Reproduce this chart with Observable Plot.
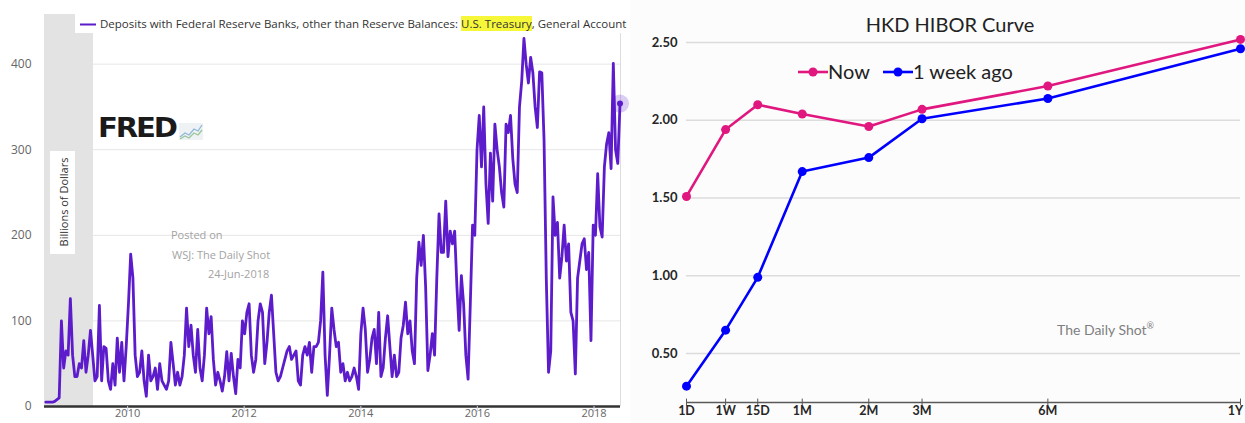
<!DOCTYPE html>
<html>
<head>
<meta charset="utf-8">
<script src="https://cdn.jsdelivr.net/npm/d3@7"></script>
<script src="https://cdn.jsdelivr.net/npm/@observablehq/plot@0.6"></script>
<style>
  body { margin: 0; background: #fff; }
  #wrap { position: relative; width: 1245px; height: 423px; overflow: hidden; }
  #left { position: absolute; left: 0; top: 0; width: 630px; height: 423px; overflow: hidden; font-family: "Open Sans", sans-serif; }
  #right { position: absolute; left: 630px; top: 0; width: 615px; height: 423px; overflow: hidden; font-family: Lato, "Open Sans", sans-serif; background: #fcfcfc; }
  .abs { position: absolute; white-space: nowrap; }
  #left svg, #right svg { position: absolute; left: 0; top: 0; }
</style>
</head>
<body>
<div id="wrap">
  <div id="left"></div>
  <div id="right"></div>
</div>
<script>
// ---------- FRED: Treasury General Account (billions of dollars), biweekly ----------
const tgaStart = "2008-08-06";
const tgaStepDays = 14;
const tgaValues = [
  5, 5, 5, 5, 6, 8, 10, 100, 45, 65,
  60, 126, 60, 35, 35, 50, 45, 77, 40, 60,
  89, 60, 30, 35, 118, 30, 70, 68, 30, 20,
  50, 25, 80, 40, 75, 30, 70, 120, 178, 150,
  60, 35, 40, 65, 30, 12, 60, 30, 35, 45,
  20, 50, 30, 25, 20, 30, 75, 50, 25, 40,
  25, 35, 60, 115, 70, 95, 60, 40, 90, 45,
  30, 60, 115, 85, 105, 55, 25, 40, 30, 18,
  35, 64, 30, 62, 35, 15, 55, 45, 100, 85,
  110, 120, 60, 40, 55, 100, 120, 110, 50, 75,
  110, 130, 85, 40, 30, 35, 45, 55, 65, 70,
  55, 60, 65, 30, 25, 60, 70, 60, 75, 40,
  70, 70, 75, 100, 157, 60, 13, 60, 115, 90,
  70, 75, 40, 50, 30, 40, 30, 35, 45, 35,
  20, 85, 115, 90, 40, 55, 80, 90, 50, 110,
  35, 45, 80, 106, 70, 35, 60, 35, 40, 80,
  95, 122, 85, 100, 65, 50, 150, 192, 165, 200,
  140, 42, 60, 85, 60, 150, 225, 180, 180, 240,
  175, 205, 190, 205, 140, 89, 153, 120, 60, 32,
  120, 212, 200, 300, 340, 280, 350, 260, 214, 296,
  240, 330, 300, 280, 250, 233, 330, 320, 340, 290,
  260, 250, 350, 380, 430, 400, 378, 408, 390, 350,
  326, 391, 390, 311, 150, 40, 65, 245, 200, 215,
  150, 175, 212, 170, 190, 110, 100, 38, 150, 170,
  190, 196, 160, 180, 77, 212, 200, 272, 210, 198,
  280, 307, 320, 278, 401, 300, 284, 354
];
const tgaDomain = ["2008-07-29", "2018-06-16"];
const recession = ["2008-07-29", "2009-06-01"];
const tgaYTicks = [0, 100, 200, 300, 400];
const tgaYearTicks = ["2010", "2012", "2014", "2016", "2018"];
const tgaSeriesName = "Deposits with Federal Reserve Banks, other than Reserve Balances: ";
const tgaSeriesHighlight = "U.S. Treasury";
const tgaSeriesRest = ", General Account";

// ---------- HKD HIBOR curve ----------
const tenors = ["1D", "1W", "15D", "1M", "2M", "3M", "6M", "1Y"];
const tenorDays = [1, 7, 15, 30, 60, 90, 180, 365];
const hiborNow = [1.51, 1.94, 2.10, 2.04, 1.96, 2.07, 2.22, 2.52];
const hiborWeekAgo = [0.29, 0.65, 0.99, 1.67, 1.76, 2.01, 2.14, 2.46];
const rateTicks = [0.5, 1.0, 1.5, 2.0, 2.5];
const rateMin = 0.185;

const purple = "#5c1ccb";
const pink = "#e0177f";
const blue = "#0000ff";

// ----- left panel -----
const tgaData = tgaValues.map((v, i) => ({
  date: d3.utcDay.offset(new Date(tgaStart), i * tgaStepDays),
  value: v
}));
const last = tgaData[tgaData.length - 1];
const yearDates = tgaYearTicks.map(y => new Date(y + "-01-01"));

const leftPlot = Plot.plot({
  width: 630, height: 423,
  marginLeft: 44, marginRight: 10, marginTop: 14, marginBottom: 17,
  x: { type: "utc", domain: tgaDomain.map(d => new Date(d)), axis: null },
  y: { domain: [0, 458], axis: null },
  style: { background: "transparent", overflow: "visible", fontFamily: "Open Sans, sans-serif" },
  marks: [
    Plot.ruleY(tgaYTicks.slice(1), { stroke: "#e6e6e6", strokeWidth: 1 }),
    Plot.rect([recession], { x1: d => new Date(d[0]), x2: d => new Date(d[1]), fill: "#e3e3e3" }),
    Plot.ruleX([new Date(tgaDomain[1])], { stroke: "#dedede", strokeWidth: 1 }),
    Plot.line(tgaData, { x: "date", y: "value", stroke: purple, strokeWidth: 2.8, strokeLinejoin: "round", curve: "linear" }),
    Plot.ruleY([0], { stroke: "#333", strokeWidth: 2.5 }),
    Plot.ruleX(yearDates, { y1: 0, y2: -7, stroke: "#ccd6eb" }),
    Plot.dot([last], { x: "date", y: "value", r: 9, fill: purple, fillOpacity: 0.22 }),
    Plot.dot([last], { x: "date", y: "value", r: 3, fill: purple }),
    Plot.text(tgaYTicks, { y: d => d, frameAnchor: "left", dx: -13, textAnchor: "end", text: d => String(d), fontSize: 12, fill: "#666" }),
    Plot.text(yearDates, { x: d => d, frameAnchor: "bottom", dy: 10, text: (d, i) => tgaYearTicks[i], fontSize: 11, fill: "#666" })
  ]
});
const left = document.getElementById("left");
left.appendChild(leftPlot);

left.insertAdjacentHTML("beforeend", `
  <div class="abs" style="left:75px;top:14px;width:560px;height:19px;background:#fff;">
    <svg class="abs" style="left:5px;top:9px" width="16" height="3"><line x1="0" x2="16" y1="1.5" y2="1.5" stroke="${purple}" stroke-width="2"/></svg>
    <div class="abs" style="left:25px;top:0;line-height:19px;font-size:11.5px;color:#333;">${tgaSeriesName}<span style="background:#f7f73a">${tgaSeriesHighlight}</span>${tgaSeriesRest}</div>
  </div>
  <div class="abs" style="left:50px;top:151px;width:25px;height:103px;background:#fff;"></div>
  <div class="abs" style="left:63px;top:202px;font-size:11px;color:#333;transform:translate(-50%,-50%) rotate(-90deg);">Billions of Dollars</div>
  <div class="abs" style="left:97px;top:115px;width:107px;height:28px;background:#fff;">
    <div class="abs" style="left:1px;top:-3px;font-family:'DejaVu Sans',sans-serif;font-weight:bold;font-size:27px;letter-spacing:-2px;color:#1a1a1a;transform:scaleX(1.08);transform-origin:left;">FRED</div>
    <svg class="abs" style="left:82px;top:8px" width="24" height="17">
      <rect x="0" y="0" width="24" height="17" fill="#eef2f4"/>
      <polyline points="1,14 6,10 10,12 15,6 19,8 23,2" fill="none" stroke="#8fb8d8" stroke-width="1.3"/>
      <polyline points="1,16 6,13 10,15 15,10 19,12 23,7" fill="none" stroke="#9cc59a" stroke-width="1.3"/>
    </svg>
  </div>
  <div class="abs" style="left:171px;top:227px;font-size:11px;color:#a3a3a3;">Posted on</div>
  <div class="abs" style="left:172px;top:247px;font-size:11px;color:#a3a3a3;">WSJ: The Daily Shot</div>
  <div class="abs" style="left:208px;top:266px;font-size:11px;color:#a3a3a3;">24-Jun-2018</div>
`);

// ----- right panel -----
const nowData = tenorDays.map((d, i) => ({ days: d, rate: hiborNow[i] }));
const agoData = tenorDays.map((d, i) => ({ days: d, rate: hiborWeekAgo[i] }));
const tenorLabelStyle = { frameAnchor: "bottom", dy: 12, fontSize: 12.5, fontWeight: "bold", fill: "#262626" };
const lastTenor = tenorDays.length - 1;

const rightPlot = Plot.plot({
  width: 615, height: 423,
  marginLeft: 56, marginRight: 5, marginTop: 42, marginBottom: 21,
  x: { type: "pow", exponent: 0.58, domain: [1, 365], axis: null },
  y: { domain: [rateMin, 2.5], axis: null },
  style: { background: "transparent", overflow: "visible", fontFamily: "Lato, sans-serif" },
  marks: [
    Plot.ruleY(rateTicks, { stroke: "#dcdcdc", strokeWidth: 1.5 }),
    Plot.ruleY([rateMin], { stroke: "#595959", strokeWidth: 1.5 }),
    Plot.ruleX(tenorDays, { y1: rateMin - 0.022, y2: rateMin + 0.022, stroke: "#595959", strokeWidth: 1 }),
    Plot.line(agoData, { x: "days", y: "rate", stroke: blue, strokeWidth: 2.6 }),
    Plot.dot(agoData, { x: "days", y: "rate", r: 4.5, fill: blue }),
    Plot.line(nowData, { x: "days", y: "rate", stroke: pink, strokeWidth: 2.6 }),
    Plot.dot(nowData, { x: "days", y: "rate", r: 4.5, fill: pink }),
    Plot.text(rateTicks, { y: d => d, frameAnchor: "left", dx: -9, textAnchor: "end", text: d => d.toFixed(2), fontSize: 13, fontWeight: "bold", fill: "#262626" }),
    // tenor labels; the last one is nudged inward so it stays inside the panel
    Plot.text(tenorDays.slice(0, lastTenor), { x: d => d, text: (d, i) => tenors[i], ...tenorLabelStyle }),
    Plot.text([tenorDays[lastTenor]], { x: d => d, text: () => tenors[lastTenor], ...tenorLabelStyle, dx: -5 })
  ]
});
const right = document.getElementById("right");
right.appendChild(rightPlot);

right.insertAdjacentHTML("beforeend", `
  <div class="abs" style="left:320px;top:12px;transform:translateX(-50%);font-size:20px;color:#222;">HKD HIBOR Curve</div>
  <svg class="abs" style="left:167px;top:66px" width="32" height="12"><line x1="1" x2="31" y1="6" y2="6" stroke="${pink}" stroke-width="2.6"/><circle cx="16" cy="6" r="4.5" fill="${pink}"/></svg>
  <div class="abs" style="left:198px;top:59px;font-size:20px;line-height:24px;color:#222;">Now</div>
  <svg class="abs" style="left:252px;top:66px" width="32" height="12"><line x1="1" x2="31" y1="6" y2="6" stroke="${blue}" stroke-width="2.6"/><circle cx="16" cy="6" r="4.5" fill="${blue}"/></svg>
  <div class="abs" style="left:283px;top:59px;font-size:20px;line-height:24px;color:#222;">1 week ago</div>
  <div class="abs" style="left:427px;top:320px;font-size:14px;color:#7f7f7f;">The Daily Shot<sup style="font-size:9px">®</sup></div>
`);
</script>
</body>
</html>
